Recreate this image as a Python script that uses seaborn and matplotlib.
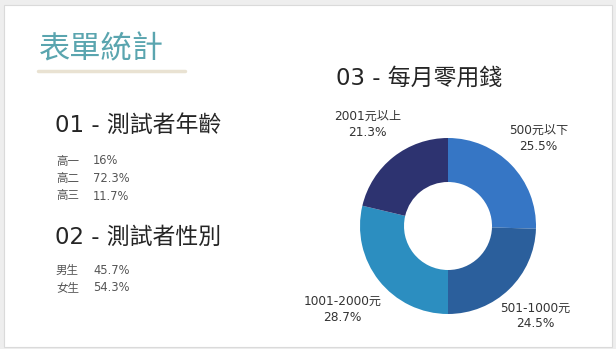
import numpy as np
import matplotlib
matplotlib.use("Agg")
import matplotlib.pyplot as plt
from matplotlib.patches import Rectangle
import seaborn as sns

sns.set_theme(style="white")
plt.rcParams["font.family"] = ["DejaVu Sans", "Noto Sans CJK TC"]

# Survey data
page_title = "表單統計"
age_title = "01 - 測試者年齡"
age_labels = ["高一", "高二", "高三"]
age_pcts = [16, 72.3, 11.7]

gender_title = "02 - 測試者性別"
gender_labels = ["男生", "女生"]
gender_pcts = [45.7, 54.3]

money_title = "03 - 每月零用錢"
money_labels = ["500元以下", "501-1000元", "1001-2000元", "2001元以上"]
money_pcts = [25.5, 24.5, 28.7, 21.3]
money_colors = ["#3676C5", "#2B5F9C", "#2C8EC0", "#2D3370"]

W, H = 616, 349
fig = plt.figure(figsize=(W / 100, H / 100), dpi=100, facecolor="#EEEEEE")


def fx(px):
    return px / W


def fy(py):
    return 1 - py / H


# white card
fig.patches.append(Rectangle((fx(4), fy(347)), fx(608), 342 / H,
                             transform=fig.transFigure, facecolor="white",
                             edgecolor="#DADADA", linewidth=0.8, zorder=-1))

# page title with underline
fig.text(fx(39), fy(49), page_title, fontsize=22.5, color="#5AA5AF",
         va="center", ha="left", family=["Noto Sans CJK TC"])
fig.add_artist(plt.Line2D([fx(38), fx(185)], [fy(71), fy(71)],
                          transform=fig.transFigure, color="#E9E2D2",
                          linewidth=2.5))


def pct(v):
    return f"{v:g}%"


head_kw = dict(fontsize=16.5, color="#252525", va="center", ha="left")
item_kw = dict(fontsize=8.3, color="#555555", va="center", ha="left")

# section 01
fig.text(fx(55), fy(125), age_title, **head_kw)
for i, (lab, v) in enumerate(zip(age_labels, age_pcts)):
    y = 161 + i * 17.5
    fig.text(fx(56), fy(y), lab, **item_kw)
    fig.text(fx(93), fy(y), pct(v), **item_kw)

# section 02
fig.text(fx(55), fy(237), gender_title, **head_kw)
for i, (lab, v) in enumerate(zip(gender_labels, gender_pcts)):
    y = 270 + i * 17.5
    fig.text(fx(56), fy(y), lab, **item_kw)
    fig.text(fx(93), fy(y), pct(v), **item_kw)

# section 03: donut
fig.text(fx(336), fy(78), money_title, **head_kw)

cx, cy, r = 448, 226, 88
ax = fig.add_axes([fx(cx - r), fy(cy + r), 2 * r / W, 2 * r / H], zorder=2)
ax.patch.set_visible(False)
wedges, _ = ax.pie(money_pcts, colors=money_colors, startangle=90,
                   counterclock=False, radius=1,
                   wedgeprops=dict(width=0.5, edgecolor="none"))
ax.set_xlim(-1, 1)
ax.set_ylim(-1, 1)
ax.set_axis_off()

label_dist = [1.43, 1.42, 1.53, 1.47]
for w, lab, v, d in zip(wedges, money_labels, money_pcts, label_dist):
    ang = np.deg2rad((w.theta1 + w.theta2) / 2)
    ax.text(d * np.cos(ang), d * np.sin(ang), f"{lab}\n{v}%",
            ha="center", va="center", fontsize=8.7, color="#333333",
            linespacing=1.25, clip_on=False)

fig.savefig("out.png", dpi=100, facecolor=fig.get_facecolor())
